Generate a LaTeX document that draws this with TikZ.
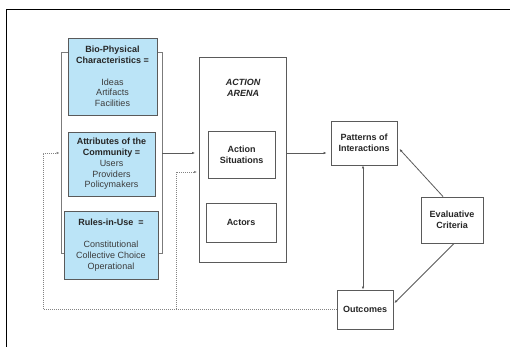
\documentclass[tikz,border=0pt]{standalone}
\usepackage{fontspec}
\setmainfont{Liberation Sans}
\usetikzlibrary{arrows.meta}
\definecolor{boxblue}{RGB}{187,228,247}
\definecolor{edge}{RGB}{90,90,90}
\definecolor{itemgray}{RGB}{60,60,60}
\newcommand{\itm}[1]{\textmd{\textcolor{itemgray}{#1}}}
\begin{document}
\begin{tikzpicture}[x=1pt,y=-1pt,
  box/.style={draw=edge, line width=0.9pt, fill=white, inner sep=0pt,
    font=\fontsize{9}{10.7}\selectfont\bfseries, align=center, text=black!85},
  bluebox/.style={box, fill=boxblue},
  frame/.style={draw=edge!80, line width=0.8pt},
  link/.style={draw=edge, line width=0.8pt, -{Latex[length=3pt,width=2.6pt]}},
  twoway/.style={link, {Latex[length=3pt,width=2.6pt]}-{Latex[length=3pt,width=2.6pt]}},
  feedback/.style={draw=edge!75, line width=0.8pt, dash pattern=on 0.8pt off 1.2pt},
  feedarrow/.style={feedback, -{Latex[length=3pt,width=2.6pt]}}
]
\useasboundingbox (0,0) rectangle (510,347);
% page border (top and left edges)
\draw[black, line width=1pt] (6,347) -- (6,10) -- (510,10);

% bracket grouping the exogenous variables
\node[frame, minimum width=101, minimum height=201, inner sep=0pt] (context) at (111.5,152.5) {};

\node[bluebox, minimum width=89, minimum height=77] (bio) at (112.5,76.5)
  {Bio-Physical\\Characteristics =\\[10.7pt]\itm{Ideas}\\\itm{Artifacts}\\\itm{Facilities}};
\node[bluebox, minimum width=87, minimum height=64] (attr) at (111.5,164)
  {Attributes of the\\Community =\\\itm{Users}\\\itm{Providers}\\\itm{Policymakers}};
\node[bluebox, minimum width=94, minimum height=68] (rules) at (111,245)
  {Rules-in-Use\ \ =\\[12pt]\itm{Constitutional}\\\itm{Collective Choice}\\\itm{Operational}};

% action arena
\node[box, minimum width=87, minimum height=205] (arena) at (242.5,159.5) {};
\node[font=\fontsize{9}{10.7}\selectfont\bfseries\itshape, align=center, text=black!85] (arenatitle) at (243,88) {ACTION\\ARENA};
\node[box, minimum width=67, minimum height=47] (actsit) at (241.5,154.5) {Action\\Situations};
\node[box, minimum width=70, minimum height=39] (actors) at (241,222.5) {Actors};

% outcomes side
\node[box, minimum width=66, minimum height=44] (patterns) at (364,143) {Patterns of\\Interactions};
\node[box, minimum width=62, minimum height=46] (eval) at (452,220) {Evaluative\\Criteria};
\node[box, minimum width=56, minimum height=39] (outcomes) at (365,309.5) {Outcomes};

% forward links
\coordinate (in1) at (195,153);
\draw[link] (context.east |- in1) -- (in1);
\draw[link] (arena.east |- in1) -- ([xshift=-4pt]patterns.west |- in1);
\draw[twoway] ([xshift=-1pt]patterns.south) -- ([xshift=-2pt]outcomes.north);
\draw[link] ([xshift=-9pt]eval.north) -- ([xshift=2pt,yshift=-6pt]patterns.east);
\draw[link] ([xshift=2pt]eval.south) -- ([xshift=1pt,yshift=6.5pt]outcomes.east);

% feedback from outcomes
\coordinate (fbl) at (43,309);
\coordinate (fbm) at (176,309);
\coordinate (in2) at (197,172);
\draw[feedback] (outcomes.west |- fbl) -- (fbl);
\draw[feedarrow] (fbl) -- (fbl |- in1) -- ([xshift=-1pt]context.west |- in1);
\draw[feedarrow] (fbm) -- (fbm |- in2) -- (in2);
\end{tikzpicture}
\end{document}
